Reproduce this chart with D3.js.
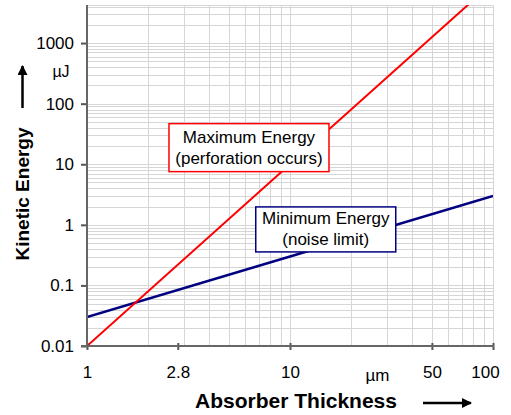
<!DOCTYPE html>
<html>
<head>
<meta charset="utf-8">
<script src="https://cdn.jsdelivr.net/npm/d3@7"></script>
<style>
  body { margin: 0; background: #fff; }
  text { font-family: "Liberation Sans", Arial, sans-serif; fill: #000; }
</style>
</head>
<body>
<div id="chart"></div>
<script>
    // absorber thickness in um, energies in uJ
    var thickness = [1, 10, 100];
    var maxEnergy = [0.01, 10, 10000];   // perforation occurs
    var minEnergy = [0.03, 0.3, 3];      // noise limit

    var xTicks = [1, 2.8, 10, 50, 100];
    var xTickLabels = ["1", "2.8", "10", "50", "100"];
    var yTicks = [0.01, 0.1, 1, 10, 100, 1000];
    var yTickLabels = ["0.01", "0.1", "1", "10", "100", "1000"];

    var width = 511,
        height = 415,
        plotLeft = 87, plotRight = 493, plotTop = 5, plotBottom = 346;

    var x = d3.scaleLog().domain([1, 100]).range([plotLeft, plotRight]);
    var y = d3.scaleLog().domain([0.01, 4250]).range([plotBottom, plotTop]);

    var svg = d3.select("#chart").append("svg")
        .attr("width", width)
        .attr("height", height);

    var defs = svg.append("defs");
    defs.append("clipPath").attr("id", "plotClip")
      .append("rect")
        .attr("x", plotLeft).attr("y", plotTop)
        .attr("width", plotRight - plotLeft).attr("height", plotBottom - plotTop);

    var marker = defs.append("marker")
        .attr("id", "arrow")
        .attr("viewBox", "0 0 10 10")
        .attr("refX", 9).attr("refY", 5)
        .attr("markerWidth", 4).attr("markerHeight", 4)
        .attr("markerUnits", "strokeWidth")
        .attr("orient", "auto");
    marker.append("path").attr("d", "M0,0L10,5L0,10z").attr("fill", "#000");

    // grid
    var grid = svg.append("g").attr("stroke", "#d6d6d6").attr("stroke-width", 1);
    grid.selectAll(".vg")
      .data(x.ticks())
      .enter().append("line")
        .attr("x1", function(d) { return Math.round(x(d)) + 0.5; })
        .attr("x2", function(d) { return Math.round(x(d)) + 0.5; })
        .attr("y1", plotTop).attr("y2", plotBottom);
    grid.selectAll(".hg")
      .data(y.ticks())
      .enter().append("line")
        .attr("y1", function(d) { return Math.round(y(d)) + 0.5; })
        .attr("y2", function(d) { return Math.round(y(d)) + 0.5; })
        .attr("x1", plotLeft).attr("x2", plotRight);
    grid.append("line")
        .attr("x1", plotLeft).attr("x2", plotRight)
        .attr("y1", plotTop + 0.5).attr("y2", plotTop + 0.5);

    // series
    var line = d3.line()
        .x(function(d) { return x(d[0]); })
        .y(function(d) { return y(d[1]); });

    var lines = svg.append("g").attr("clip-path", "url(#plotClip)").attr("fill", "none");
    lines.append("path")
        .attr("d", line(d3.zip(thickness, minEnergy)))
        .attr("stroke", "#000080")
        .attr("stroke-width", 2.5);
    lines.append("path")
        .attr("d", line(d3.zip(thickness, maxEnergy)))
        .attr("stroke", "#ff0000")
        .attr("stroke-width", 2);

    // axes
    var yAxis = svg.append("g")
        .attr("transform", "translate(" + plotLeft + ",0)")
        .call(d3.axisLeft(y).tickValues(yTicks).tickSize(6)
          .tickFormat(function(d, i) { return yTickLabels[i]; }));
    yAxis.select(".domain").remove();
    yAxis.selectAll(".tick line").attr("stroke", "#555").attr("stroke-width", 2);
    yAxis.selectAll("text")
        .attr("x", -13)
        .style("font-size", "17px")
        .style("font-family", "Liberation Sans, Arial, sans-serif");

    var xAxis = svg.append("g")
        .attr("transform", "translate(0," + plotBottom + ")")
        .call(d3.axisBottom(x).tickValues(xTicks).tickSize(4)
          .tickFormat(function(d, i) { return xTickLabels[i]; }));
    xAxis.select(".domain").remove();
    xAxis.selectAll(".tick line").attr("stroke", "#555").attr("stroke-width", 2).attr("y1", -3);
    xAxis.selectAll("text")
        .attr("y", 20)
        .attr("dx", function(d) { return d === 100 ? -8 : 0; })
        .style("font-size", "17px")
        .style("font-family", "Liberation Sans, Arial, sans-serif");

    svg.append("line")
        .attr("x1", plotLeft).attr("x2", plotLeft)
        .attr("y1", plotTop).attr("y2", plotBottom + 1)
        .attr("stroke", "#666").attr("stroke-width", 2);
    svg.append("line")
        .attr("x1", plotLeft - 6).attr("x2", plotRight + 1)
        .attr("y1", plotBottom).attr("y2", plotBottom)
        .attr("stroke", "#666").attr("stroke-width", 2);

    // units
    svg.append("text")
        .attr("x", 61).attr("y", 77)
        .attr("text-anchor", "middle")
        .style("font-size", "16px")
        .text("µJ");
    svg.append("text")
        .attr("x", x(27)).attr("y", 381)
        .attr("text-anchor", "middle")
        .style("font-size", "17px")
        .text("µm");

    // axis titles
    svg.append("text")
        .attr("transform", "translate(29,194) rotate(-90)")
        .attr("text-anchor", "middle")
        .style("font-size", "19px")
        .style("font-weight", "bold")
        .text("Kinetic Energy");
    svg.append("line")
        .attr("x1", 22.5).attr("x2", 22.5)
        .attr("y1", 108).attr("y2", 66)
        .attr("stroke", "#000").attr("stroke-width", 2.5)
        .attr("marker-end", "url(#arrow)");

    svg.append("text")
        .attr("x", 296).attr("y", 408)
        .attr("text-anchor", "middle")
        .style("font-size", "21px")
        .style("font-weight", "bold")
        .text("Absorber Thickness");
    svg.append("line")
        .attr("x1", 423).attr("x2", 471)
        .attr("y1", 403).attr("y2", 403)
        .attr("stroke", "#000").attr("stroke-width", 2.5)
        .attr("marker-end", "url(#arrow)");

    // annotation boxes
    var notes = [
      {t: 6.28, e: 18.8, w: 160, h: 48, color: "#ff0000", lines: ["Maximum Energy", "(perforation occurs)"]},
      {t: 15.0, e: 0.84, w: 140, h: 45, color: "#000080", lines: ["Minimum Energy", "(noise limit)"]}
    ];

    var note = svg.selectAll(".note")
      .data(notes)
      .enter().append("g")
        .attr("transform", function(d) { return "translate(" + x(d.t) + "," + y(d.e) + ")"; });
    note.append("rect")
        .attr("x", function(d) { return -d.w / 2; })
        .attr("y", function(d) { return -d.h / 2; })
        .attr("width", function(d) { return d.w; })
        .attr("height", function(d) { return d.h; })
        .attr("fill", "#fff")
        .attr("stroke", function(d) { return d.color; })
        .attr("stroke-width", 1.5);
    note.selectAll("text")
      .data(function(d) { return d.lines; })
      .enter().append("text")
        .attr("text-anchor", "middle")
        .attr("y", function(d, i) { return i === 0 ? -5 : 16; })
        .style("font-size", "17px")
        .text(function(d) { return d; });
</script>
</body>
</html>
